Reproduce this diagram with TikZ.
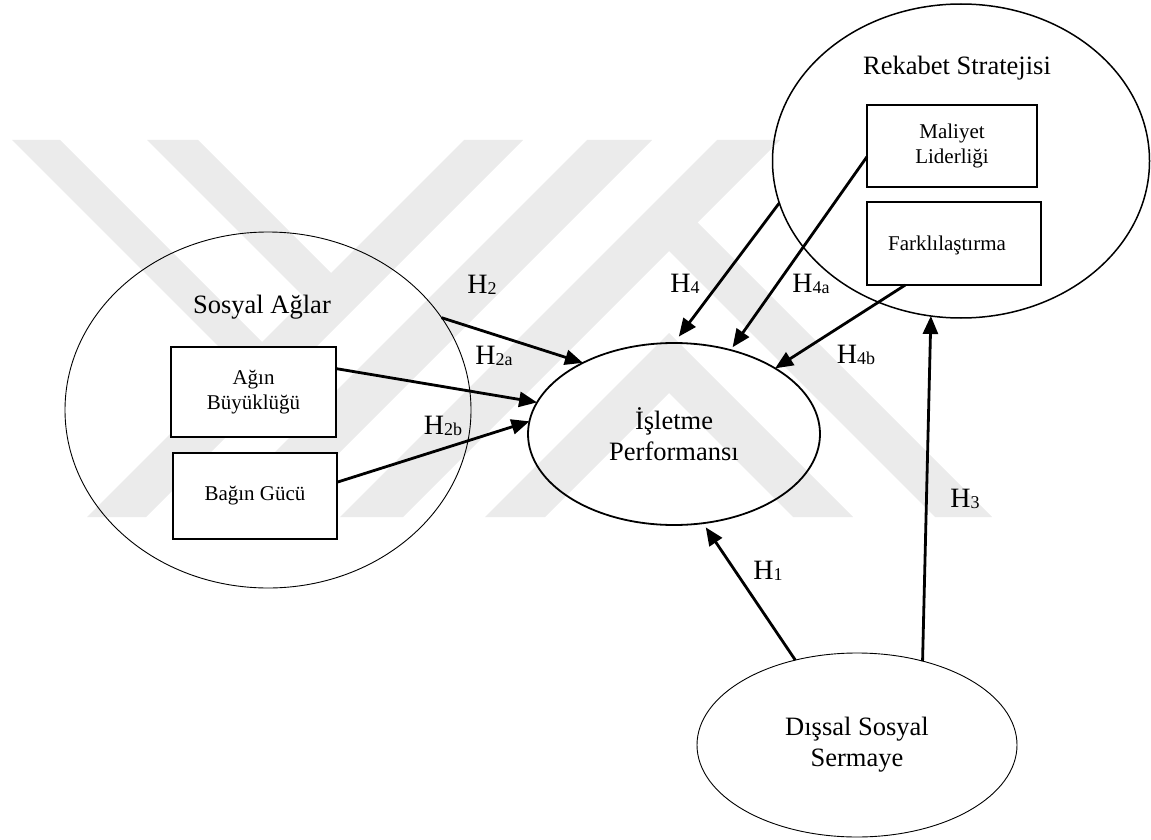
\documentclass[tikz,border=0pt]{standalone}
\usepackage{fontspec}
\setmainfont{Liberation Serif}
\usetikzlibrary{arrows.meta,shapes.geometric,calc}
\newcommand\hsub[1]{\raisebox{-1.5pt}{\fontsize{18}{18}\selectfont #1}}
\begin{document}
\begin{tikzpicture}[x=1pt,y=-1pt,
  every node/.style={inner sep=0pt,outer sep=0pt},
  big/.style={font=\fontsize{26.5}{31}\selectfont,align=center},
  small/.style={font=\fontsize{21}{24.5}\selectfont,align=center},
  hyp/.style={font=\fontsize{28}{28}\selectfont},
  oval/.style={draw,ellipse},
  box/.style={draw,fill=white,rectangle},
  link/.style={line width=2.8pt,-{Triangle[length=18pt,width=15pt]}},
  wm/.style={fill=black!8}
]
\useasboundingbox (0,0) rectangle (1151,840);

% background emblem: diagonal bands
\fill[wm] (12,140) -- (60,140) -- (290,370) -- (242,370) -- cycle;
\fill[wm] (147,140) -- (198,140) -- (358,300) -- (307,300) -- cycle;
\fill[wm] (464,140) -- (523,140) -- (146,517) -- (87,517) -- cycle;
\fill[wm] (587,140) -- (652,140) -- (275,517) -- (210,517) -- cycle;
\fill[wm] (717,140) -- (780,140) -- (403,517) -- (340,517) -- cycle;
\fill[wm] (666,191) -- (992,517) -- (935,517) -- (669,251) -- cycle;
\fill[wm] (669,333) -- (853,517) -- (793,517) -- (669,393) -- (545,517) -- (485,517) -- cycle;

% containers
\node[oval, line width=0.9pt, minimum width=406pt, minimum height=356pt] (sa) at (268,410) {};
\node[big] (sat) at (262,307) {Sosyal Ağlar};
\node[oval, line width=1.5pt, minimum width=377pt, minimum height=314pt] (rs) at (961,161) {};
\node[big] (rst) at (957,68) {Rekabet Stratejisi};

% inner boxes
\node[box, small, line width=1.8pt, minimum width=165pt, minimum height=90pt] (ab) at (253.5,392) {Ağın\\Büyüklüğü};
\node[box, small, line width=1.8pt, minimum width=164pt, minimum height=86pt] (bg) at (255,496) {Bağın Gücü};
\node[box, small, line width=1.2pt, minimum width=170pt, minimum height=82pt] (ml) at (952,146) {Maliyet\\Liderliği};
\node[box, line width=1.2pt, minimum width=174pt, minimum height=83pt] (fk) at (954,243.5) {};
\node[small] (fkt) at (947,245) {Farklılaştırma};

% main constructs
\node[oval, big, line width=1.8pt, minimum width=292pt, minimum height=182pt] (ip) at (674,434) {İşletme\\Performansı};
\node[oval, big, line width=0.9pt, minimum width=320pt, minimum height=184pt] (ds) at (857,745) {Dışsal Sosyal\\Sermaye};

% hypotheses
\draw[link] (sa.28.3) -- (ip.142.3);
\draw[link] ($(ab.north east)!0.24!(ab.south east)$) -- (ip.167);
\draw[link] ($(bg.north east)!0.34!(bg.south east)$) -- (ip.175.7);
\draw[link, shorten >=8pt] (rs.193.7) -- (ip.90);
\draw[link, shorten >=3.5pt] ($(ml.north west)!0.63!(ml.south west)$) -- (ip.56.3);
\draw[link] ($(fk.south west)!0.22!(fk.south east)$) -- (ip.33.6);
\draw[link] (ds.52.4) -- (rs.259.3);
\draw[link, shorten >=5pt] (ds.126.2) -- (ip.-72.9);

% hypothesis labels
\node[hyp] (h2) at (482,285) {H\hsub{2}};
\node[hyp] (h2a) at (494,356) {H\hsub{2a}};
\node[hyp] (h2b) at (443,426) {H\hsub{2b}};
\node[hyp] (h4) at (685,284) {H\hsub{4}};
\node[hyp] (h4a) at (811,284) {H\hsub{4a}};
\node[hyp] (h4b) at (856,355) {H\hsub{4b}};
\node[hyp] (h3) at (965,499) {H\hsub{3}};
\node[hyp] (h1) at (768,571) {H\hsub{1}};
\end{tikzpicture}
\end{document}
